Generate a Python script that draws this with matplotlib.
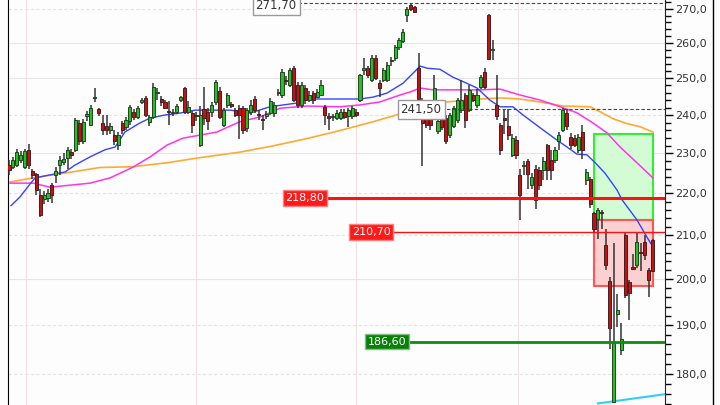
import numpy as np
import matplotlib.pyplot as plt
from matplotlib.patches import Rectangle
from matplotlib.lines import Line2D
from matplotlib.ticker import MultipleLocator, FuncFormatter, NullFormatter

# daily candles (price units)
opens = [227.0, 226.5, 227.0, 228.3, 226.5, 230.9, 225.6, 224.8, 219.6, 218.5,
         218.8, 222.0, 224.5, 227.0, 227.9, 228.9, 230.4, 230.9, 237.9, 233.1,
         239.8, 237.4, 244.5, 241.5, 238.0, 237.1, 236.0, 234.7, 232.1, 237.9,
         236.8, 238.4, 240.8, 239.5, 243.4, 244.6, 238.2, 239.5, 246.0, 244.3,
         243.4, 241.0, 240.6, 240.8, 244.0, 247.3, 240.8, 240.6, 240.0, 232.1,
         241.6, 240.8, 240.8, 243.4, 246.5, 237.4, 242.7, 242.9, 241.3, 242.0,
         242.0, 236.5, 240.8, 244.3, 240.3, 239.0, 239.8, 240.6, 240.6, 245.8,
         245.4, 249.5, 248.1, 253.0, 248.1, 242.7, 247.3, 244.0, 246.0, 244.9,
         245.4, 242.2, 239.8, 239.4, 239.2, 239.2, 240.8, 239.8, 239.8, 240.8,
         244.0, 252.3, 252.8, 249.5, 255.7, 248.7, 249.5, 249.5, 254.8, 255.7,
         258.9, 260.6, 268.2, 271.2, 270.5, 252.8, 244.0, 242.2, 240.0, 244.0,
         235.7, 240.0, 239.2, 234.7, 237.1, 238.7, 241.3, 245.4, 241.3, 245.4,
         242.7, 247.6, 251.7, 268.2, 258.0, 242.7, 237.4, 239.2, 237.1, 229.6,
         233.4, 224.5, 226.8, 228.0, 222.0, 226.1, 225.8, 225.8, 232.1, 228.3,
         228.3, 233.1, 236.0, 240.6, 234.2, 234.0, 230.9, 235.5, 223.3, 223.6,
         215.2, 213.9, 215.5, 207.7, 199.6, 174.5, 192.5, 184.8, 210.0, 199.3,
         202.7, 203.2, 206.0, 208.4, 202.0, 208.9]
highs = [228.3, 229.0, 231.0, 230.5, 231.0, 232.5, 226.0, 225.0, 221.0, 220.5,
         221.0, 222.5, 226.5, 229.3, 230.0, 231.5, 231.0, 239.2, 238.7, 239.0,
         241.0, 242.7, 247.4, 242.0, 240.0, 240.0, 238.0, 236.0, 235.5, 238.5,
         239.5, 242.7, 241.5, 242.5, 244.5, 245.0, 240.0, 248.7, 247.3, 245.0,
         244.0, 243.7, 241.5, 243.0, 245.2, 247.6, 243.7, 241.0, 240.7, 242.3,
         247.6, 242.0, 243.4, 249.5, 247.5, 242.0, 246.0, 243.4, 242.0, 242.7,
         242.5, 242.0, 244.0, 245.0, 241.3, 240.0, 241.0, 244.5, 243.4, 247.0,
         252.5, 250.5, 253.0, 253.5, 249.0, 249.0, 248.0, 246.5, 246.5, 247.0,
         249.5, 242.7, 240.5, 240.3, 241.3, 241.5, 241.5, 242.0, 242.5, 241.5,
         251.3, 255.7, 253.5, 256.5, 256.5, 249.5, 253.0, 254.5, 256.0, 259.5,
         261.5, 264.0, 270.7, 271.7, 271.0, 257.2, 244.5, 243.0, 241.0, 250.9,
         239.0, 241.0, 240.0, 240.5, 242.5, 244.5, 249.5, 246.0, 248.0, 246.0,
         247.0, 251.0, 253.0, 268.5, 260.9, 251.0, 238.0, 241.3, 241.5, 235.0,
         234.5, 226.0, 228.0, 228.5, 225.0, 227.0, 226.5, 229.0, 232.5, 230.9,
         231.5, 235.5, 241.8, 241.5, 235.3, 234.7, 235.0, 237.4, 226.0, 224.0,
         215.5, 216.5, 216.0, 211.4, 200.5, 208.2, 196.7, 190.5, 210.7, 199.8,
         205.6, 210.7, 208.2, 210.0, 202.5, 209.2]
lows = [224.5, 226.0, 226.5, 227.5, 226.0, 226.0, 223.5, 219.6, 214.3, 217.5,
        218.0, 217.7, 222.5, 224.5, 227.0, 226.0, 228.5, 230.3, 232.1, 232.5,
        238.5, 237.0, 243.4, 239.6, 234.7, 234.7, 235.0, 232.1, 230.9, 235.0,
        236.0, 237.4, 238.7, 239.0, 243.0, 239.5, 237.0, 239.0, 244.0, 242.5,
        241.5, 237.4, 239.8, 240.3, 243.5, 240.3, 240.3, 235.3, 238.5, 231.5,
        237.4, 236.0, 239.5, 242.7, 239.0, 236.8, 242.0, 241.8, 239.5, 233.6,
        235.0, 235.5, 240.0, 240.5, 238.7, 236.0, 239.0, 240.0, 239.5, 245.0,
        244.5, 248.0, 247.5, 243.5, 242.0, 242.0, 243.0, 243.5, 243.0, 244.5,
        245.0, 237.4, 236.0, 238.5, 238.7, 238.7, 239.0, 236.8, 239.0, 239.5,
        243.5, 250.9, 250.0, 249.0, 249.5, 244.9, 249.0, 249.0, 253.5, 254.8,
        258.0, 260.0, 266.1, 269.5, 268.8, 243.5, 226.8, 236.5, 236.0, 240.0,
        235.0, 236.0, 232.5, 234.0, 236.5, 238.0, 240.5, 236.5, 240.8, 243.4,
        242.0, 247.0, 247.0, 255.0, 255.1, 238.7, 229.6, 235.0, 233.4, 229.0,
        228.5, 213.6, 224.5, 221.0, 221.0, 216.3, 220.8, 223.3, 223.3, 223.3,
        227.5, 230.9, 235.5, 236.0, 231.0, 231.5, 230.0, 228.5, 222.0, 216.5,
        210.5, 209.2, 211.4, 202.0, 185.1, 174.2, 189.6, 183.8, 195.8, 191.1,
        202.0, 202.5, 201.8, 204.3, 196.0, 201.5]
closes = [225.8, 228.3, 230.4, 229.5, 230.6, 227.0, 224.6, 220.8, 214.8, 219.5,
          220.1, 219.6, 225.5, 228.3, 228.6, 230.9, 229.6, 238.7, 233.1, 238.2,
          240.3, 241.8, 244.7, 240.5, 236.0, 236.0, 237.0, 233.1, 234.7, 236.0,
          238.7, 242.2, 239.5, 241.8, 244.0, 240.0, 239.5, 247.6, 246.2, 243.4,
          242.0, 240.7, 240.8, 242.3, 244.8, 240.8, 242.2, 237.4, 239.6, 240.0,
          239.2, 238.4, 242.7, 248.9, 239.5, 241.3, 245.4, 242.5, 240.0, 240.0,
          236.0, 241.3, 242.7, 241.3, 239.9, 238.6, 240.3, 243.7, 242.7, 246.2,
          251.7, 249.2, 252.3, 244.0, 242.7, 248.1, 244.0, 245.4, 244.0, 246.2,
          248.1, 240.0, 239.2, 239.6, 240.6, 240.8, 239.5, 241.3, 241.8, 240.0,
          250.9, 252.8, 250.9, 255.7, 250.1, 247.3, 252.3, 253.7, 255.1, 258.9,
          260.9, 263.1, 270.0, 270.0, 269.2, 244.3, 238.0, 237.4, 237.4, 247.3,
          238.4, 236.8, 233.1, 240.0, 241.8, 244.0, 244.0, 238.7, 246.8, 244.0,
          245.4, 250.3, 247.6, 255.4, 258.2, 239.8, 230.9, 238.7, 234.7, 233.9,
          229.6, 219.6, 227.0, 224.8, 224.0, 218.4, 222.0, 228.0, 225.8, 225.8,
          230.9, 234.7, 241.3, 237.1, 232.1, 232.1, 234.2, 230.9, 225.3, 217.4,
          211.4, 216.0, 215.3, 203.2, 189.4, 186.5, 193.2, 187.2, 196.5, 197.0,
          202.3, 208.4, 205.8, 205.4, 199.8, 201.8]

# moving averages (candle index, price)
ma_fast_x = [0.5, 2.8, 5.4, 6.7, 9.2, 11.8, 14.4, 16.9, 20.8, 24.6, 27.2, 29.7, 33.6,
             36.2, 40, 43.8, 47.7, 56.7, 61.8, 66.9, 73.8, 76.4, 84.9, 90, 93.3, 96.9,
             101, 103.6, 105.4, 107.2, 110.5, 113.8, 117.4, 120, 123.3, 125.9, 129.2,
             131.8, 136.2, 140.5, 143.1, 145.6, 148.2, 150.3, 152.8, 155.9, 157.2,
             161, 163.6, 165.1]
ma_fast_y = [217.0, 219.1, 222.3, 223.8, 224.3, 224.8, 225.3, 227.0, 229.1, 230.9,
             231.6, 235.5, 237.9, 239.2, 240.0, 240.5, 241.3, 241.3, 240.5, 242.2,
             243.2, 244.3, 244.3, 244.3, 244.8, 245.9, 248.6, 251.4, 253.4, 252.8,
             252.5, 250.3, 248.6, 247.3, 244.0, 242.2, 242.2, 240.0, 236.6, 233.4,
             231.6, 229.8, 229.6, 227.6, 225.0, 220.8, 218.4, 213.6, 209.5, 207.3]
ma_mid_x = [0.3, 6.2, 10.5, 20.8, 25.9, 31.8, 36.2, 40.5, 44.6, 49, 53.3, 57.4, 59.2,
            64.4, 69.5, 76.4, 84.9, 90, 95.1, 100.3, 102.8, 105.4, 108.7, 120.8,
            125.9, 131, 136.2, 141.3, 145.6, 149.7, 153.3, 156.7, 161, 165.1]
ma_mid_y = [222.5, 222.5, 221.5, 222.5, 223.8, 226.5, 229.1, 232.1, 233.9, 234.7,
            235.5, 237.4, 238.2, 239.5, 241.8, 242.4, 242.2, 242.7, 243.5, 245.4,
            246.2, 247.3, 246.8, 246.8, 247.0, 245.4, 244.0, 242.2, 240.6, 237.9,
            235.3, 231.6, 227.6, 223.8]
ma_slow_x = [0.3, 6.2, 14.9, 23.3, 31.8, 40.5, 49, 59.2, 67.7, 76.4, 84.9, 93.3,
             100.3, 107.2, 112.3, 120.8, 125.9, 131, 137.9, 142, 149, 151.5, 154.9,
             158.5, 161.8, 165.1]
ma_slow_y = [222.8, 223.8, 225.1, 226.4, 226.6, 227.6, 228.9, 230.3, 231.9, 233.8,
             235.9, 238.2, 240.3, 242.4, 243.5, 244.3, 244.6, 244.3, 243.2, 242.4,
             242.2, 240.9, 239.0, 237.7, 236.9, 235.5]
ma_long_x = [151, 168.2]
ma_long_y = [174.2, 176.0]

# price levels
res_level, mid_level, sup_level = 218.80, 210.70, 186.60
last_high, ref_close = 271.70, 241.50
green_zone = (213.5, 235.0)
red_zone = (198.4, 213.5)

fmt = lambda v: ('%.2f' % v).replace('.', ',')

fig = plt.figure(figsize=(7.2, 4.05), dpi=100, facecolor='#fcfdfc')
ax = fig.add_axes([8 / 720, 0, 657 / 720, 1])
ax.set_facecolor('#fcfdfc')
ax.set_yscale('log')
xmax = 168.2
ax.set_xlim(-0.26, xmax)
ax.set_ylim(173.9, 272.7)

# grid
for v in [180, 190, 210, 220, 240, 270]:
    ax.axhline(v, color='#e4e4e4', lw=0.8, ls=(0, (3, 2)), zorder=0)
for v in [200, 230, 250, 260]:
    ax.axhline(v, color='#e6e6e6', lw=0.8, zorder=0)
for v in [4.4, 48, 89, 130.5]:
    ax.axvline(v, color='#eee2e2', lw=0.8, zorder=0)

# zones
z0 = 150
ax.add_patch(Rectangle((z0, green_zone[0]), 165 - z0, green_zone[1] - green_zone[0],
                       fc='#d4fcd4', ec='#33ee33', lw=1.5, zorder=1))
ax.add_patch(Rectangle((z0, red_zone[0]), 165 - z0, red_zone[1] - red_zone[0],
                       fc='#fbd0d0', ec='#ff5555', lw=1.5, zorder=1))

# moving averages
ax.plot(ma_slow_x, ma_slow_y, color='#ffaa33', lw=1.2, zorder=2)
ax.plot(ma_mid_x, ma_mid_y, color='#ff33ee', lw=1.1, zorder=2)
ax.plot(ma_fast_x, ma_fast_y, color='#3344ff', lw=1.0, zorder=2)
ax.plot(ma_long_x, ma_long_y, color='#33ccff', lw=1.5, zorder=2)

# candles
x = np.arange(len(closes))
o = np.array(opens)
c = np.array(closes)
up = c >= o
ax.vlines(x, lows, highs, color='#333333', lw=1.1, zorder=3)
body_lo = np.minimum(o, c)
body_h = np.maximum(np.abs(c - o), 0.3)
ax.bar(x[up], body_h[up], bottom=body_lo[up], width=0.8, color='#22c222',
       edgecolor='#224422', lw=0.7, zorder=4)
ax.bar(x[~up], body_h[~up], bottom=body_lo[~up], width=0.8, color='#c81010',
       edgecolor='#442020', lw=0.7, zorder=4)

# level lines and their labels
ax.hlines(res_level, 81.5, xmax, color='#ff1111', lw=2.2, zorder=5)
ax.hlines(mid_level, 98.5, xmax, color='#ff1111', lw=1.0, zorder=5)
ax.hlines(sup_level, 102.6, xmax, color='#108a10', lw=2.0, zorder=5)
ax.hlines(ref_close, 110.8, xmax, color='#444444', lw=0.8, ls=(0, (3, 2)), zorder=5)
ax.hlines(last_high, 74, xmax, color='#444444', lw=0.8, ls=(0, (3, 2)), zorder=5)

box = dict(boxstyle='square,pad=0.25', lw=1)
ax.text(75.9, res_level, fmt(res_level), color='white', fontsize=8, ha='center', va='center',
        zorder=6, bbox=dict(box, fc='#ff1a1a', ec='#ff8080'))
ax.text(92.85, mid_level, fmt(mid_level), color='white', fontsize=8, ha='center', va='center',
        zorder=6, bbox=dict(box, fc='#ff1a1a', ec='#ff8080'))
ax.text(96.95, sup_level, fmt(sup_level), color='white', fontsize=8, ha='center', va='center',
        zorder=6, bbox=dict(box, fc='#0a800a', ec='#80c080'))
ax.text(105.65, ref_close, fmt(ref_close), color='#333333', fontsize=8.5, ha='center',
        va='center', zorder=6, bbox=dict(box, fc='white', ec='#999999'))
# top label sits a bit under its line so the text stays inside the picture
ax.text(68.5, 271.0, fmt(last_high), color='#333333', fontsize=8.5, ha='center',
        va='center', zorder=6, bbox=dict(box, fc='white', ec='#999999'))

# axes
ax.yaxis.set_major_locator(MultipleLocator(10))
ax.yaxis.set_minor_locator(MultipleLocator(2))
ax.yaxis.set_major_formatter(FuncFormatter(lambda v, p: ('%.1f' % v).replace('.', ',')))
ax.yaxis.set_minor_formatter(NullFormatter())
ax.yaxis.tick_right()
ax.tick_params(axis='y', which='major', length=6, width=1, labelsize=8,
               labelcolor='#333333', pad=1.5)
ax.tick_params(axis='y', which='minor', length=4, width=1)
ax.set_xticks([])
for s in ['top', 'bottom']:
    ax.spines[s].set_visible(False)
ax.spines['left'].set_color('black')
ax.spines['right'].set_color('#222222')

fig.add_artist(Line2D([713 / 720, 713 / 720], [0, 1], color='black', lw=1))

fig.savefig('out.png', dpi=100, facecolor=fig.get_facecolor())
